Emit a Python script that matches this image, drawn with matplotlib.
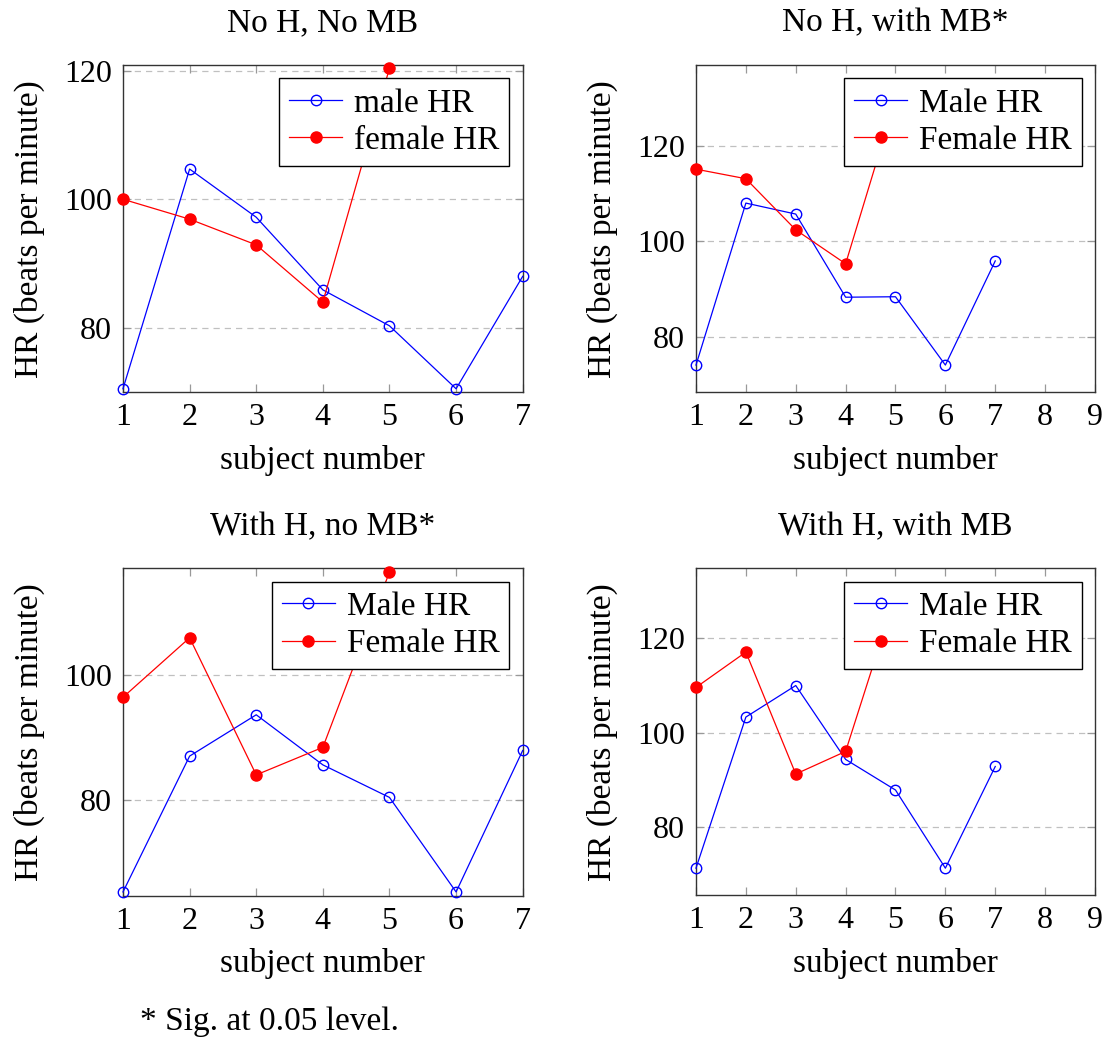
import matplotlib
matplotlib.use("Agg")
import matplotlib.pyplot as plt

plt.rcParams['font.family'] = ['Liberation Serif', 'DejaVu Serif']
plt.rcParams['font.size'] = 24

titles = ["No H, No MB", "No H, with MB*", "With H, no MB*", "With H, with MB"]
male_labels = ["male HR", "Male HR", "Male HR", "Male HR"]
female_labels = ["female HR", "Female HR", "Female HR", "Female HR"]

subjects_male = [1, 2, 3, 4, 5, 6, 7]
subjects_female = [1, 2, 3, 4, 5]

male_hr = [
    [70.5, 104.7, 97.2, 85.9, 80.3, 70.5, 88.0],
    [74.1, 108.0, 105.7, 88.3, 88.4, 74.1, 95.9],
    [65.3, 87.0, 93.6, 85.6, 80.4, 65.3, 87.9],
    [71.2, 103.3, 110.0, 94.3, 87.8, 71.2, 92.8],
]
female_hr = [
    [100.0, 96.9, 92.9, 84.0, 120.4],
    [115.1, 113.1, 102.4, 95.3, 129.7],
    [96.4, 105.9, 84.0, 88.4, 116.4],
    [109.6, 117.1, 91.2, 96.0, 129.2],
]

xlims = [(1, 7), (1, 9), (1, 7), (1, 9)]
ylims = [(69.95, 120.9), (68.4, 136.9), (64.7, 117.0), (65.5, 134.9)]
xticks = [[1, 2, 3, 4, 5, 6, 7], [1, 2, 3, 4, 5, 6, 7, 8, 9],
          [1, 2, 3, 4, 5, 6, 7], [1, 2, 3, 4, 5, 6, 7, 8, 9]]
yticks = [[80, 100, 120], [80, 100, 120], [80, 100], [80, 100, 120]]

W, H = 1106, 1042
fig = plt.figure(figsize=(W / 100, H / 100), dpi=100)

# axes boxes in pixels: left, right, top, bottom
boxes = [
    (123, 522.7, 65, 392.3),
    (696, 1095, 65, 392.3),
    (123, 522.7, 568.3, 895.7),
    (696, 1095, 568.3, 895.0),
]

for i in range(4):
    l, r, t, b = boxes[i]
    ax = fig.add_axes([l / W, 1 - b / H, (r - l) / W, (b - t) / H])
    ax.plot(subjects_male, male_hr[i], color='blue', lw=0.9, marker='o',
            ms=7.5, mfc='none', mec='blue', mew=1.0, label=male_labels[i],
            clip_on=False, zorder=3)
    ax.plot(subjects_female, female_hr[i], color='red', lw=0.9, marker='o',
            ms=8, mfc='red', mec='red', label=female_labels[i],
            clip_on=False, zorder=3)
    ax.set_xlim(*xlims[i])
    ax.set_ylim(*ylims[i])
    ax.set_xticks(xticks[i])
    ax.set_yticks(yticks[i])
    ax.yaxis.grid(True, linestyle=(0, (5, 4)), color='#c0c0c0', lw=0.9)
    ax.set_axisbelow(True)
    ax.tick_params(direction='in', length=6, width=0.9, color='#999999',
                   top=True, right=True, pad=8, labelsize=23)
    for sp in ax.spines.values():
        sp.set_linewidth(1.0)
        sp.set_color('#333333')
    ax.set_title(titles[i], pad=24, fontsize=24)
    ax.set_xlabel("subject number", fontsize=24, labelpad=9)
    ax.set_ylabel("HR (beats per minute)", fontsize=24, labelpad=14)
    leg = ax.legend(loc='upper right', fontsize=24, frameon=True, fancybox=False,
                    edgecolor='black', framealpha=1, borderaxespad=0.4,
                    handlelength=1.6, handletextpad=0.35, borderpad=0.3,
                    labelspacing=0.2)
    leg.get_frame().set_linewidth(1.0)
    leg.set_zorder(5)

fig.text(140 / W, 1 - 1022 / H, "* Sig. at 0.05 level.", fontsize=24,
         ha='left', va='center')

fig.savefig("out.png", dpi=100)
